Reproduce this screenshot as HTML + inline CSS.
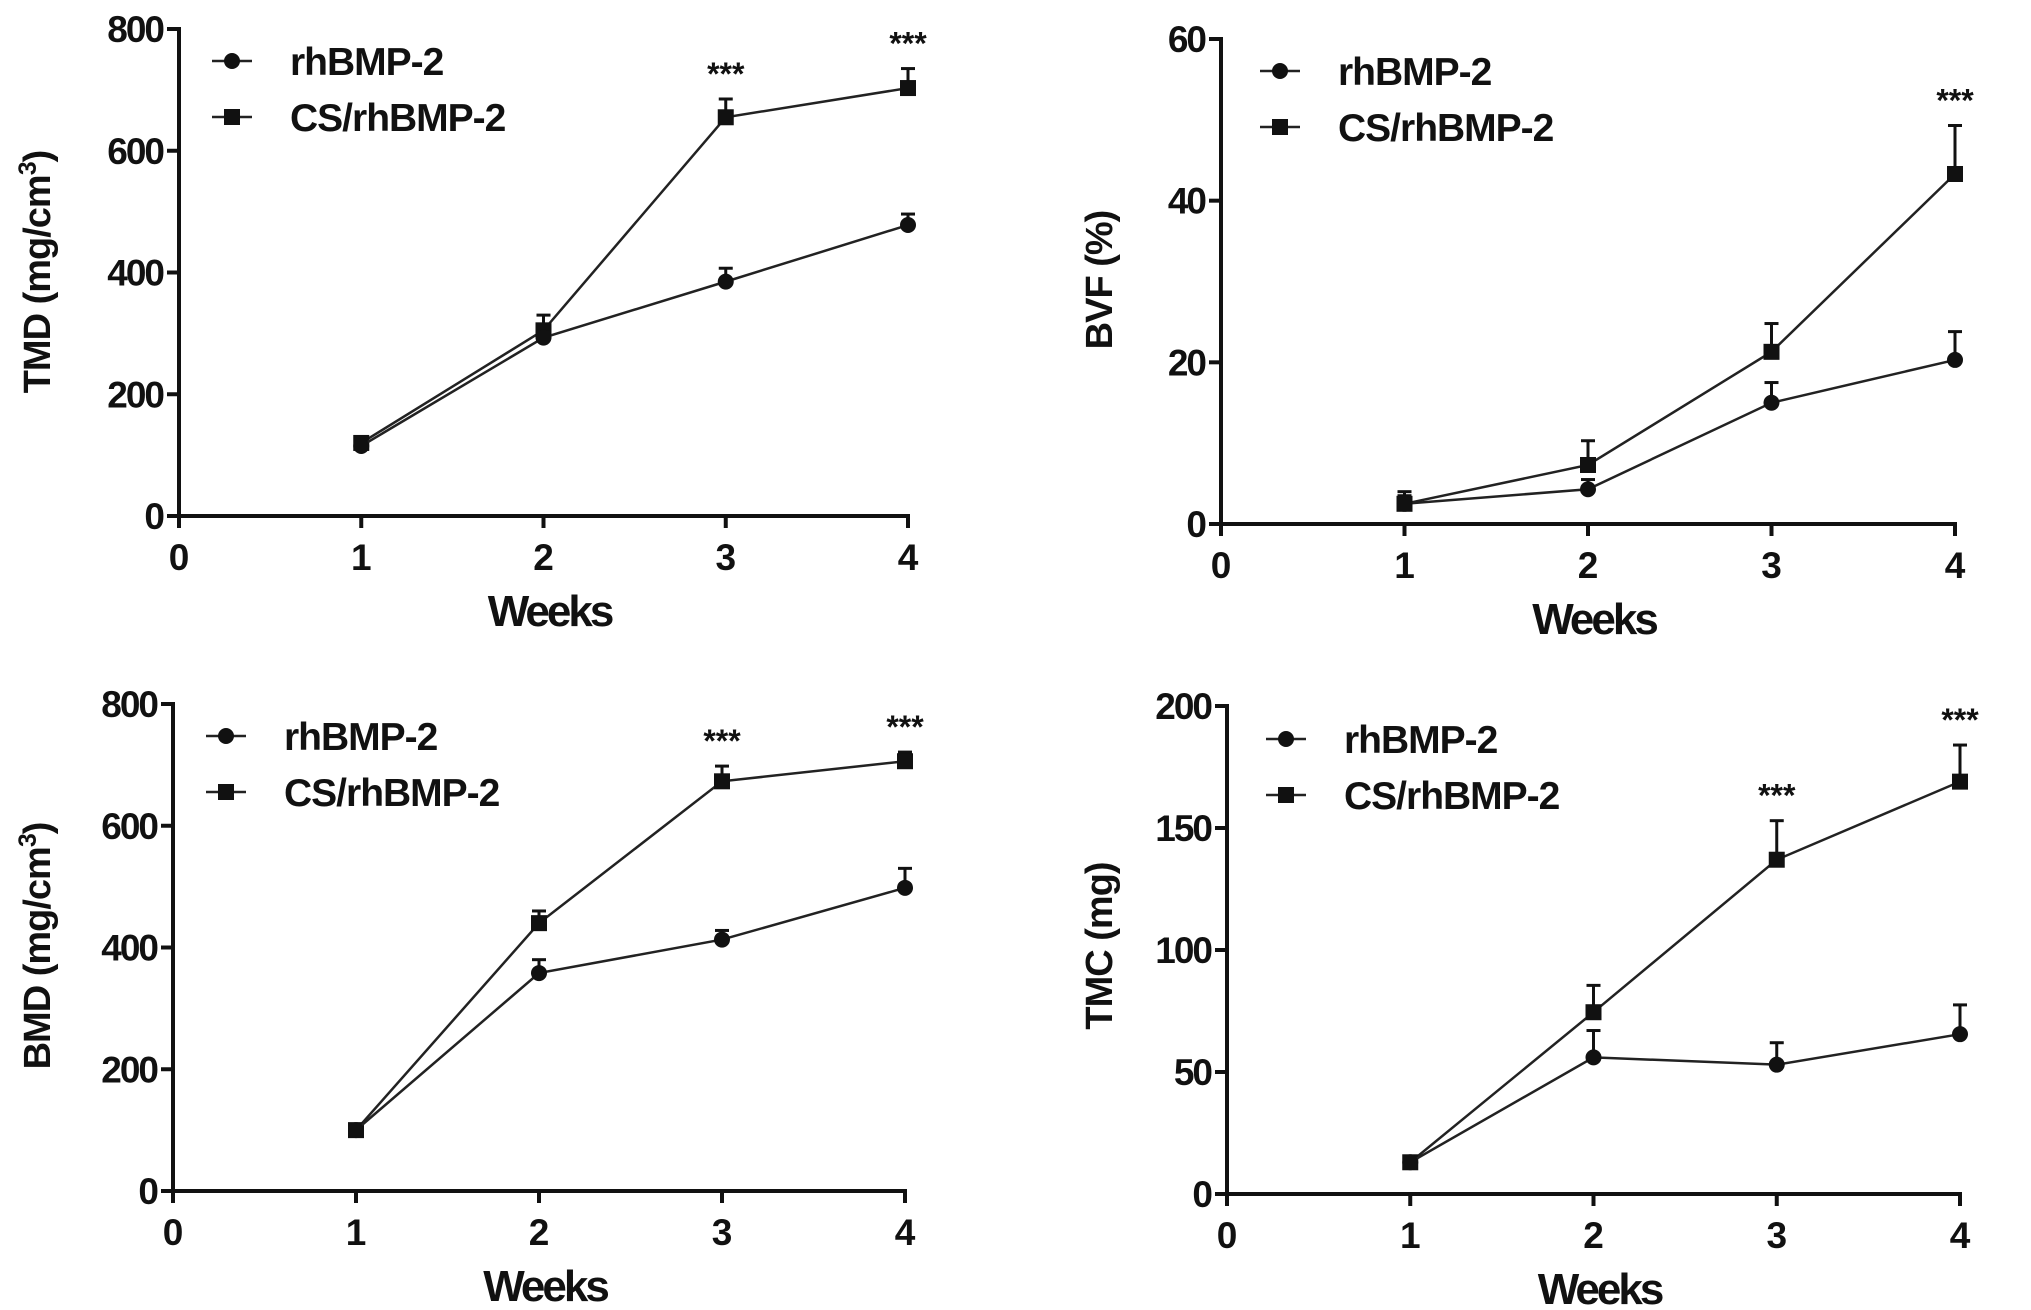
<!DOCTYPE html>
<html><head><meta charset="utf-8"><style>
html,body{margin:0;padding:0;background:#fff}
svg{display:block}
text{font-family:"Liberation Sans",Arial,sans-serif;font-weight:bold;fill:#111}
</style></head><body>
<svg id="fig" width="2031" height="1310" viewBox="0 0 2031 1310" xmlns="http://www.w3.org/2000/svg"></svg>
<script>
const weeks=[1,2,3,4];
const xTicks=[0,1,2,3,4];
const tmdRh=[115,293,385,478], tmdRhErr=[0,10,22,18];
const tmdCs=[120,305,655,703], tmdCsErr=[10,25,30,32];
const tmdTicks=[0,200,400,600,800];
const bvfRh=[2.5,4.3,15,20.3], bvfRhErr=[1,1.2,2.5,3.5];
const bvfCs=[2.5,7.3,21.3,43.3], bvfCsErr=[1.5,3,3.5,6];
const bvfTicks=[0,20,40,60];
const bmdRh=[100,358,413,498], bmdRhErr=[0,22,15,32];
const bmdCs=[100,440,673,706], bmdCsErr=[0,20,25,15];
const bmdTicks=[0,200,400,600,800];
const tmcRh=[13,56,53,65.5], tmcRhErr=[0,11,9,12];
const tmcCs=[13,74.5,137,169], tmcCsErr=[0,11,16,15];
const tmcTicks=[0,50,100,150,200];
const tmdStars=[3,4], bvfStars=[4], bmdStars=[3,4], tmcStars=[3,4];

const NS="http://www.w3.org/2000/svg";
const svg=document.getElementById('fig');
function mk(tag,attrs,parent,txt){const e=document.createElementNS(NS,tag);for(const k in attrs)e.setAttribute(k,attrs[k]);if(txt!==undefined)e.textContent=txt;(parent||svg).appendChild(e);return e;}

function panel(cfg){
  const g=mk('g',{});
  
  
  const ymax=cfg.ticks[cfg.ticks.length-1];
  const X=v=>cfg.x0+(cfg.x4-cfg.x0)*v/4;
  const Y=v=>cfg.y0-(cfg.y0-cfg.yTop)*v/ymax;
  const ya=mk('line',{x1:cfg.x0,y1:cfg.yTop-2,x2:cfg.x0,y2:cfg.y0+12,stroke:'#111','stroke-width':4},g);
  
  const xa=mk('line',{x1:cfg.x0-12,y1:cfg.y0,x2:cfg.x4+2,y2:cfg.y0,stroke:'#111','stroke-width':4},g);
  
  cfg.ticks.forEach(t=>{
    mk('line',{x1:cfg.x0-12,y1:Y(t),x2:cfg.x0,y2:Y(t),stroke:'#111','stroke-width':4},g);
    const tl=mk('text',{x:cfg.x0-16,y:Y(t)+13,'text-anchor':'end','font-size':37,'letter-spacing':'-2'},g,String(t));
    
  });
  xTicks.forEach(t=>{
    mk('line',{x1:X(t),y1:cfg.y0,x2:X(t),y2:cfg.y0+12,stroke:'#111','stroke-width':4},g);
    const tl=mk('text',{x:X(t),y:cfg.y0+54,'text-anchor':'middle','font-size':37},g,String(t));
    
  });
  const xt=mk('text',{x:(cfg.x0+cfg.x4)/2+6,y:cfg.y0+110,'text-anchor':'middle','font-size':44,'letter-spacing':'-3'},g,'Weeks');
  
  const yt=mk('text',{x:0,y:0,'text-anchor':'middle','font-size':38,'letter-spacing':'-1',transform:`translate(${cfg.ytx},${cfg.yty}) rotate(-90)`},g);
  
  yt.innerHTML=cfg.ytitle;
  const series=[{v:cfg.cs,e:cfg.csErr,m:'sq',n:'cs-rhbmp2'},{v:cfg.rh,e:cfg.rhErr,m:'ci',n:'rhbmp2'}];
  series.forEach(s=>{
    const pts=weeks.map((w,i)=>X(w)+','+Y(s.v[i])).join(' ');
    const pl=mk('polyline',{points:pts,fill:'none',stroke:'#222','stroke-width':2.5},g);
    
    weeks.forEach((w,i)=>{
      if(s.e[i]>0){
        const top=Y(s.v[i]+s.e[i]);
        mk('line',{x1:X(w),y1:Y(s.v[i]),x2:X(w),y2:top,stroke:'#111','stroke-width':3},g);
        const cap=mk('line',{x1:X(w)-7,y1:top,x2:X(w)+7,y2:top,stroke:'#111','stroke-width':3},g);
        
      }
      let mkr;
      if(s.m==='sq') mkr=mk('rect',{x:X(w)-8,y:Y(s.v[i])-8,width:16,height:16,fill:'#111'},g);
      else mkr=mk('circle',{cx:X(w),cy:Y(s.v[i]),r:8,fill:'#111'},g);
      
    });
  });
  cfg.stars.forEach(w=>{
    const i=weeks.indexOf(w);
    const top=Y(cfg.cs[i]+cfg.csErr[i]);
    const st=mk('text',{x:X(w),y:top-14,'text-anchor':'middle','font-size':32,'font-weight':'normal'},g,'***');
    
  });
  const lg=mk('g',{},g);
  
  [['rhBMP-2','ci',cfg.ly],['CS/rhBMP-2','sq',cfg.ly+56]].forEach(([lab,m,y])=>{
    mk('line',{x1:cfg.lx,y1:y,x2:cfg.lx+40,y2:y,stroke:'#222','stroke-width':2.5},lg);
    if(m==='sq') mk('rect',{x:cfg.lx+12,y:y-8,width:16,height:16,fill:'#111'},lg);
    else mk('circle',{cx:cfg.lx+20,cy:y,r:8,fill:'#111'},lg);
    const t=mk('text',{x:cfg.lx+78,y:y+14,'font-size':39,'letter-spacing':'-1'},lg,lab);
    
  });
}
panel({name:'tmd-chart',x0:179,x4:908,y0:516,yTop:29,ticks:tmdTicks,rh:tmdRh,rhErr:tmdRhErr,cs:tmdCs,csErr:tmdCsErr,stars:tmdStars,ytitle:'TMD (mg/cm<tspan font-size="25" dy="-14">3</tspan><tspan dy="14">)</tspan>',ytx:50,yty:272,lx:212,ly:61});
panel({name:'bvf-chart',x0:1221,x4:1955,y0:524,yTop:39,ticks:bvfTicks,rh:bvfRh,rhErr:bvfRhErr,cs:bvfCs,csErr:bvfCsErr,stars:bvfStars,ytitle:'BVF (%)',ytx:1112,yty:280,lx:1260,ly:71});
panel({name:'bmd-chart',x0:173,x4:905,y0:1191,yTop:704,ticks:bmdTicks,rh:bmdRh,rhErr:bmdRhErr,cs:bmdCs,csErr:bmdCsErr,stars:bmdStars,ytitle:'BMD (mg/cm<tspan font-size="25" dy="-14">3</tspan><tspan dy="14">)</tspan>',ytx:50,yty:946,lx:206,ly:736});
panel({name:'tmc-chart',x0:1227,x4:1960,y0:1194,yTop:706,ticks:tmcTicks,rh:tmcRh,rhErr:tmcRhErr,cs:tmcCs,csErr:tmcCsErr,stars:tmcStars,ytitle:'TMC (mg)',ytx:1112,yty:946,lx:1266,ly:739});
</script>
</body></html>
